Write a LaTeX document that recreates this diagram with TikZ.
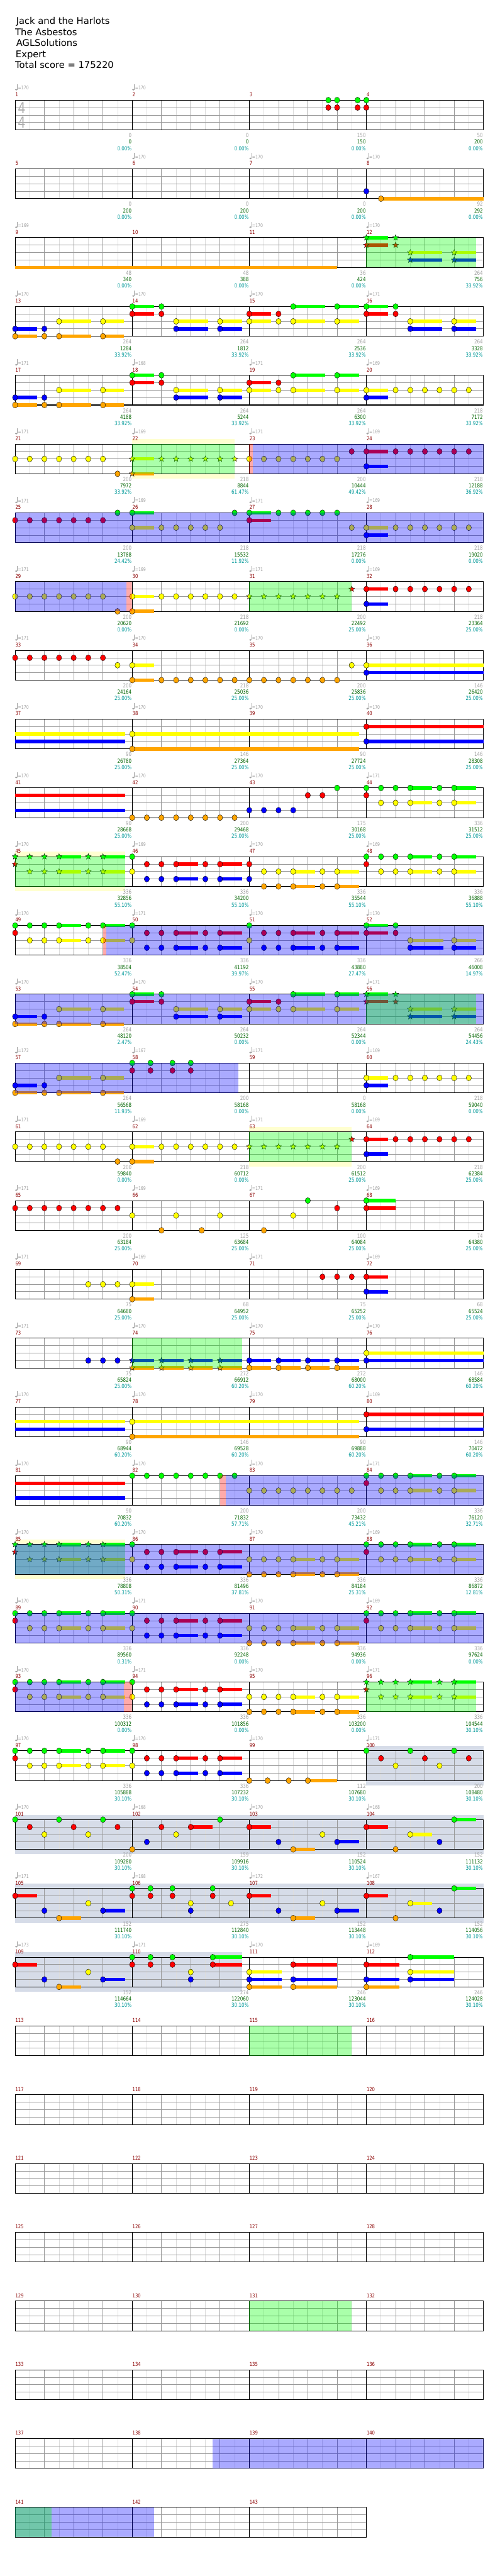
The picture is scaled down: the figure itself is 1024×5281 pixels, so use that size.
\documentclass[tikz,border=0pt]{standalone}
\usepackage{fontspec}
\setmainfont{DejaVu Sans}
\newfontfamily\lf[FakeStretch=0.8]{DejaVu Sans}
\usetikzlibrary{shapes.geometric}
\pgfdeclarelayer{bg}
\pgfdeclarelayer{grid}
\pgfdeclarelayer{over}
\pgfsetlayers{bg,grid,main,over}
\definecolor{cg}{RGB}{0,255,0}
\definecolor{cr}{RGB}{255,0,0}
\definecolor{cy}{RGB}{255,255,0}
\definecolor{cb}{RGB}{0,0,255}
\definecolor{co}{RGB}{255,165,0}
\definecolor{lgray}{RGB}{221,221,221}
\definecolor{mgray}{RGB}{153,153,153}
\definecolor{tgray}{RGB}{160,160,160}
\definecolor{sgray}{RGB}{175,175,175}
\definecolor{mred}{RGB}{139,0,0}
\definecolor{sgreen}{RGB}{0,100,0}
\definecolor{steal}{RGB}{0,153,153}
\definecolor{ybg}{RGB}{255,255,208}
\definecolor{sbg}{RGB}{214,220,232}
\def\Lg{0}\def\Lr{1}\def\Ly{2}\def\Lb{3}\def\Lo{4}
\tikzset{
 starn/.style={star,star points=5,star point ratio=2.3,minimum size=12.5pt,inner sep=0pt,draw=black,line width=0.5pt},
 mnum/.style={anchor=west,inner sep=0pt,text=mred,font=\lf\fontsize{11}{12}\selectfont},
 tnum/.style={anchor=west,inner sep=0pt,text=tgray,font=\lf\fontsize{10}{11}\selectfont},
 lab/.style={anchor=east,inner sep=0pt,font=\lf\fontsize{11.5}{12}\selectfont},
 ttl/.style={anchor=base west,inner sep=0pt,font=\fontsize{19}{22}\selectfont},
 tsig/.style={inner sep=0pt,text=sgray,font=\lf\fontsize{31}{31}\selectfont}
}
\newcommand\setrow[1]{\pgfmathsetmacro\Ty{205.3+141*(#1-1)}}
\newcommand\NN[2]{\pgfmathsetmacro\ly{\Ty+15.25*\csname L#1\endcsname}%
  \foreach \uu in {#2}{\fill[c#1,draw=black,line width=0.5pt] (31+15*\uu,\ly) ellipse [x radius=5.4,y radius=6];}}
\newcommand\BS[3]{\pgfmathsetmacro\ly{\Ty+15.25*\csname L#1\endcsname}%
  \fill[c#1] (31+15*#2,\ly-3.5) rectangle (31+15*#3,\ly+3.5);}
\newcommand\NS[2]{\foreach \aa/\bb in {#2}{\BS{#1}{\aa}{\bb}\NN{#1}{\aa}}}
\newcommand\XX[2]{\pgfmathsetmacro\ly{\Ty+15.25*\csname L#1\endcsname}%
  \foreach \uu in {#2}{\node[starn,fill=c#1] at (31+15*\uu,\ly) {};}}
\newcommand\XS[2]{\foreach \aa/\bb in {#2}{\BS{#1}{\aa}{\bb}\XX{#1}{\aa}}}
\newcommand\ovB[2]{\begin{pgfonlayer}{over}\fill[cb,opacity=0.333] (31+15*#1,\Ty) rectangle (31+15*#2,\Ty+61);\end{pgfonlayer}}
\newcommand\ovG[2]{\begin{pgfonlayer}{over}\fill[cg,opacity=0.333] (31+15*#1,\Ty) rectangle (31+15*#2,\Ty+61);\end{pgfonlayer}}
\newcommand\ovP[2]{\begin{pgfonlayer}{over}\fill[cr,opacity=0.333] (31+15*#1,\Ty) rectangle (31+15*#2,\Ty+61);\end{pgfonlayer}}
\newcommand\bgY[2]{\begin{pgfonlayer}{bg}\fill[ybg] (31+15*#1,\Ty-10) rectangle (31+15*#2,\Ty);\fill[ybg] (31+15*#1,\Ty+61) rectangle (31+15*#2,\Ty+71);\end{pgfonlayer}}
\newcommand\bgS[2]{\begin{pgfonlayer}{bg}\fill[sbg] (31+15*#1,\Ty-10) rectangle (31+15*#2,\Ty+71);\end{pgfonlayer}}
\newcommand\Staff[2]{\setrow{#1}%
 \pgfmathtruncatemacro\nq{4*#2}%
 \begin{pgfonlayer}{grid}
 \foreach \i in {1,...,\nq}{\draw[lgray,line width=0.8pt] (1+60*\i,\Ty) -- (1+60*\i,\Ty+61);}
 \foreach \i in {1,...,\nq}{\draw[mgray,line width=0.8pt] (31+60*\i,\Ty) -- (31+60*\i,\Ty+61);}
 \foreach \k in {1,2,3}{\draw[mgray,line width=1pt] (31,\Ty+15.25*\k) -- (31+240*#2,\Ty+15.25*\k);}
 \foreach \m in {1,...,#2}{\draw[black,line width=0.8pt] (31+240*\m-240,\Ty) -- (31+240*\m-240,\Ty+61);}
 \draw[black,line width=1.3pt] (31,\Ty) rectangle (31+240*#2,\Ty+61);
 \end{pgfonlayer}
 \foreach \m in {1,...,#2}{\pgfmathtruncatemacro\mn{4*#1-4+\m}\node[mnum] at (31.5+240*\m-240,\Ty-11.3) {\mn};}}
\newcommand\Tempo[1]{\foreach \tp [count=\cc from 0] in {#1}{\ifnum\tp>0\relax
  \fill[tgray] (33.3+240*\cc,\Ty-21.5) ellipse [x radius=2.4,y radius=1.8];
  \draw[tgray,line width=0.6pt] (35.5+240*\cc,\Ty-21.5) -- (35.5+240*\cc,\Ty-32.5);
  \node[tnum] at (36.8+240*\cc,\Ty-24.8) {=\tp};\fi}}
\newcommand\Labs[1]{\foreach \la/\lb/\lc [count=\cc from 1] in {#1}{%
  \node[lab,text=tgray] at (990+240*\cc-960,\Ty+72.4) {\la};
  \node[lab,text=sgreen] at (990+240*\cc-960,\Ty+85.7) {\lb};
  \node[lab,text=steal] at (990+240*\cc-960,\Ty+98.7) {\lc\%};}}
\begin{document}
\begin{tikzpicture}[x=1pt,y=-1pt]
\useasboundingbox (0,0) rectangle (1024,5281);
\begin{pgfonlayer}{bg}\fill[white] (0,0) rectangle (1024,5281);\end{pgfonlayer}
\node[ttl] (t1) at (33,50) {Jack and the Harlots};
\node[ttl] (t2) at (31,72.6) {The Asbestos};
\node[ttl] (t3) at (33,95.2) {AGLSolutions};
\node[ttl] (t4) at (32,117.8) {Expert};
\node[ttl] (t5) at (31,140.4) {Total score = 175220};
% ---------- row 1
\Staff{1}{4}\Tempo{170,170,0,0}
\node[tsig] (ts1) at (44.5,221) {4};
\node[tsig] (ts2) at (44.5,251.5) {4};
\Labs{0/0/0.00,0/0/0.00,150/150/0.00,50/200/0.00}
\NN{g}{42.8,44,46.8,48}\NN{r}{42.8,44,46.8,48}
% ---------- row 2
\Staff{2}{4}\Tempo{0,170,170,170}
\Labs{0/200/0.00,0/200/0.00,0/200/0.00,92/292/0.00}
\NN{b}{48}\NS{o}{50/64}
% ---------- row 3
\Staff{3}{4}\Tempo{169,0,170,170}
\Labs{48/340/0.00,48/388/0.00,36/424/0.00,264/756/33.92}
\BS{o}{0}{44}\ovG{48}{63}
\XS{g}{48/51}\XX{g}{52}\XS{r}{48/51}\XX{r}{52}\XS{y}{54/58.4,60/63}\XS{b}{54/58.4,60/63}
% ---------- row 4
\Staff{4}{4}\Tempo{170,170,170,171}
\Labs{264/1284/33.92,264/1812/33.92,264/2536/33.92,264/3328/33.92}
\NS{o}{0/3,6/10.4,12/14.9}\NN{o}{4}
\NS{b}{0/3,22/26.4,28/31,54/58.4,60/63}\NN{b}{4}
\NS{y}{6/10.4,12/14.9,22/26.4,28/31,32/35,38/42.4,44/47,54/58.4,60/63}\NN{y}{36}
\NS{g}{16/19,38/42.4,44/47,48/51}\NN{g}{20,52}
\NS{r}{16/19,32/35,48/51}\NN{r}{20,36,52}
% ---------- row 5
\Staff{5}{4}\Tempo{171,168,171,169}
\Labs{264/4188/33.92,264/5244/33.92,264/6300/33.92,218/7172/33.92}
\NS{o}{0/3,6/10.4,12/14.9}\NN{o}{4}
\NS{b}{0/3,22/26.4,28/31,48/51}\NN{b}{4}
\NS{y}{6/10.4,12/14.9,22/26.4,28/31,32/35,38/42.4,44/47,48/51}\NN{y}{36,52,54,56,58,60,62}
\NS{g}{16/19,38/42.4,44/47}\NN{g}{20}
\NS{r}{16/19,32/35}\NN{r}{20,36}
% ---------- row 6
\Staff{6}{4}\Tempo{171,169,171,169}
\Labs{200/7972/33.92,218/8844/61.47,200/10444/49.42,218/12188/36.92}
\bgY{16}{30}\ovG{16}{30}\ovP{32}{32.5}\ovB{32.5}{64}
\NN{y}{0,2,4,6,8,10,12,32,34,36,38,40,42,44}\NN{o}{14}
\XS{y}{16/19}\XS{o}{16/19}\XX{y}{20,22,24,26,28,30}
\NN{r}{46,52,54,56,58,60,62}\NS{r}{48/51}\NS{b}{48/51}
% ---------- row 7
\Staff{7}{4}\Tempo{171,169,171,169}
\Labs{200/13788/24.42,218/15532/11.92,218/17276/0.00,218/19020/0.00}
\ovB{0}{64}
\NN{r}{0,2,4,6,8,10,12}\NN{g}{14}\NS{g}{16/19}\NS{y}{16/19}\NN{y}{20,22,24,26,28}\NN{g}{30}
\NS{g}{32/35}\NS{r}{32/35}\NN{g}{36,38,40,42,44}\NN{y}{46,52,54,56,58,60,62}\NS{y}{48/51}\NS{b}{48/51}
% ---------- row 8
\Staff{8}{4}\Tempo{171,169,171,169}
\Labs{200/20620/0.00,218/21692/0.00,200/22492/25.00,218/23364/25.00}
\ovB{0}{15.2}\ovP{15.2}{16}\ovG{32}{46}
\NN{y}{0,2,4,6,8,10,12,20,22,24,26,28,30}\NN{o}{14}\NS{y}{16/19}\NS{o}{16/19}
\XX{y}{32,34,36,38,40,42,44}\XX{r}{46}\NS{r}{48/51}\NS{b}{48/51}\NN{r}{52,54,56,58,60,62}
% ---------- row 9
\Staff{9}{4}\Tempo{171,170,170,170}
\Labs{200/24164/25.00,218/25036/25.00,200/25836/25.00,146/26420/25.00}
\NN{r}{0,2,4,6,8,10,12}\NN{y}{14,46}\NS{y}{16/19,48/64}\NS{o}{16/19}
\NN{o}{20,22,24,26,28,30,32,34,36,38,40,42,44}\NS{b}{48/64}
% ---------- row 10
\Staff{10}{4}\Tempo{170,170,170,170}
\Labs{90/26780/25.00,146/27364/25.00,90/27724/25.00,146/28308/25.00}
\BS{y}{0}{15}\BS{b}{0}{15}\NS{y}{16/47}\NS{o}{16/47}\NS{r}{48/64}\NS{b}{48/64}
% ---------- row 11
\Staff{11}{4}\Tempo{170,170,170,171}
\Labs{90/28668/25.00,200/29468/25.00,175/30168/25.00,336/31512/25.00}
\BS{r}{0}{15}\BS{b}{0}{15}\NN{o}{16,18,20,22,24,26,28,30}\NN{b}{32,34,36,38}
\NN{r}{40,42,48}\NN{g}{44,48,50,52,58}\NS{g}{54/57,60/63}\NN{y}{50,52,58}\NS{y}{54/57,60/63}
% ---------- row 12
\Staff{12}{4}\Tempo{170,169,170,169}
\Labs{336/32856/55.10,336/34200/55.10,336/35544/55.10,336/36888/55.10}
\bgY{0}{15}\ovG{0}{15}
\XX{g}{0,2,4,10}\XS{g}{6/9,12/15}\XX{r}{0}\XX{y}{2,4,10}\XS{y}{6/9,12/15}
\NN{g}{16,48,50,52,58}\NS{g}{54/57,60/63}\NN{y}{16,50,52,58}\NS{y}{54/57,60/63}
\NN{r}{18,20,26,32,48}\NS{r}{22/25,28/31}\NN{b}{18,20,26,32}\NS{b}{22/25,28/31}
\NN{y}{34,36,42}\NS{y}{38/41,44/47}\NN{o}{34,36,42}\NS{o}{38/41,44/47}
% ---------- row 13
\Staff{13}{4}\Tempo{170,171,170,170}
\Labs{336/38504/52.47,336/41192/39.97,336/43880/27.47,266/46008/14.97}
\ovP{12}{12.5}\ovB{12.5}{64}
\NN{g}{0,2,4,10,16,32,52}\NS{g}{6/9,12/15,48/51}
\NN{r}{0,18,20,26,34,36,42,52}\NS{r}{22/25,28/31,38/41,44/47,48/51}
\NN{y}{2,4,10,16,32}\NS{y}{6/9,12/15,54/58.5,60/63}
\NN{b}{18,20,26,34,36,42}\NS{b}{22/25,28/31,38/41,44/47,54/58.5,60/63}
% ---------- row 14
\Staff{14}{4}\Tempo{170,170,170,171}
\Labs{264/48120/2.47,264/50232/0.00,264/52344/0.00,264/54456/24.43}
\ovB{0}{64}\ovG{48}{63}
\NS{o}{0/3,6/10.4,12/14.9}\NN{o}{4}
\NS{b}{0/3,22/26.4,28/31}\NN{b}{4}\XS{b}{54/58.4,60/63}
\NS{y}{6/10.4,12/14.9,22/26.4,28/31,32/35,38/42.4,44/47}\NN{y}{36}\XS{y}{54/58.4,60/63}
\NS{g}{16/19,38/42.4,44/47}\NN{g}{20}\XS{g}{48/51}\XX{g}{52}
\NS{r}{16/19,32/35}\NN{r}{20,36}\XS{r}{48/51}\XX{r}{52}
% ---------- row 15
\Staff{15}{4}\Tempo{172,167,171,169}
\Labs{264/56568/11.93,200/58168/0.00,0/58168/0.00,218/59040/0.00}
\ovB{0}{30.5}
\NS{o}{0/3,6/10.4,12/14.9}\NN{o}{4}\NS{b}{0/3,48/51}\NN{b}{4}
\NS{y}{6/10.4,12/14.9,48/51}\NN{y}{52,54,56,58,60,62}
\NN{g}{16,18.5,21.5,24}\NN{r}{16,18.5,21.5,24}
% ---------- row 16
\Staff{16}{4}\Tempo{171,169,171,169}
\Labs{200/59840/0.00,218/60712/0.00,200/61512/25.00,218/62384/25.00}
\bgY{32}{46}\ovG{32}{46}
\NN{y}{0,2,4,6,8,10,12,20,22,24,26,28,30}\NN{o}{14}\NS{y}{16/19}\NS{o}{16/19}
\XX{y}{32,34,36,38,40,42,44}\XX{r}{46}\NS{r}{48/51}\NS{b}{48/51}\NN{r}{52,54,56,58,60,62}
% ---------- row 17
\Staff{17}{4}\Tempo{171,169,171,169}
\Labs{200/63184/25.00,125/63684/25.00,100/64084/25.00,74/64380/25.00}
\NN{r}{0,2,4,6,8,10,12,14,44}\NN{y}{16,22,28,38}\NN{o}{20,25.5,34}\NN{g}{40}\NS{g}{48/52}\NS{r}{48/52}
% ---------- row 18
\Staff{18}{4}\Tempo{171,169,171,169}
\Labs{75/64680/25.00,68/64952/25.00,75/65252/25.00,68/65524/25.00}
\NN{y}{10,12,14}\NS{y}{16/19}\NS{o}{16/19}\NN{r}{42,44,46}\NS{r}{48/51}\NS{b}{48/51}
% ---------- row 19
\Staff{19}{4}\Tempo{171,170,170,170}
\Labs{75/65824/25.00,272/66912/60.20,272/68000/60.20,146/68584/60.20}
\ovG{16}{31}
\NN{b}{10,12,14}\XS{b}{16/19,20/23,24/27,28/31}\XS{o}{16/19,20/23,24/27,28/31}
\NS{b}{32/35,36/39,40/43,44/47}\NS{o}{32/35,36/39,40/43,44/47}\NS{y}{48/64}\NS{b}{48/64}
% ---------- row 20
\Staff{20}{4}\Tempo{170,170,170,169}
\Labs{90/68944/60.20,146/69528/60.20,90/69888/60.20,146/70472/60.20}
\BS{y}{0}{15}\BS{b}{0}{15}\NS{y}{16/47}\NS{o}{16/47}\NS{r}{48/64}\NS{b}{48/64}
% ---------- row 21
\Staff{21}{4}\Tempo{170,170,170,171}
\Labs{90/70832/60.20,200/71832/57.71,200/73432/45.21,336/76120/32.71}
\ovP{28}{28.8}\ovB{28.8}{64}
\BS{r}{0}{15}\BS{b}{0}{15}\NN{g}{16,18,20,22,24,26,28,30,48,50,52,58}\NS{g}{54/57,60/63}
\NN{y}{32,34,36,38,40,42,44,46,50,52,58}\NS{y}{54/57,60/63}\NN{r}{48}
% ---------- row 22
\Staff{22}{4}\Tempo{170,170,170,169}
\Labs{336/78808/50.31,336/81496/37.81,336/84184/25.31,336/86872/12.81}
\bgY{0}{15}\ovG{0}{15}\ovB{0}{64}
\XX{g}{0,2,4,10}\XS{g}{6/9,12/15}\XX{r}{0}\XX{y}{2,4,10}\XS{y}{6/9,12/15}
\NN{g}{16,48,50,52,58}\NS{g}{54/57,60/63}\NN{y}{16,50,52,58}\NS{y}{54/57,60/63}
\NN{r}{18,20,26,48}\NS{r}{22/25,28/31}\NN{b}{18,20,26}\NS{b}{22/25,28/31}
\NN{y}{32,34,36,42}\NS{y}{38/41,44/47}\NN{o}{32,34,36,42}\NS{o}{38/41,44/47}
% ---------- row 23
\Staff{23}{4}\Tempo{170,171,170,169}
\Labs{336/89560/0.31,336/92248/0.00,336/94936/0.00,336/97624/0.00}
\ovB{0}{64}
\NN{g}{0,2,4,10,16,48,50,52,58}\NS{g}{6/9,12/15,54/57,60/63}\NN{r}{0,18,20,26,48}\NS{r}{22/25,28/31}
\NN{y}{2,4,10,16,32,34,36,42,50,52,58}\NS{y}{6/9,12/15,38/41,44/47,54/57,60/63}
\NN{b}{18,20,26}\NS{b}{22/25,28/31}\NN{o}{32,34,36,42}\NS{o}{38/41,44/47}
% ---------- row 24
\Staff{24}{4}\Tempo{170,171,170,171}
\Labs{336/100312/0.00,336/101856/0.00,336/103200/0.00,336/104544/30.10}
\ovB{0}{14.85}\ovP{14.85}{16}\ovG{48}{63}
\NN{g}{0,2,4,10,16}\NS{g}{6/9,12/15}\NN{r}{0,18,20,26}\NS{r}{22/25,28/31}
\NN{y}{2,4,10,16,32,34,36,42}\NS{y}{6/9,12/15,38/41,44/47}
\NN{b}{18,20,26}\NS{b}{22/25,28/31}\NN{o}{32,34,36,42}\NS{o}{38/41,44/47}
\XX{g}{48,50,52,58}\XS{g}{54/57,60/63}\XX{r}{48}\XX{y}{50,52,58}\XS{y}{54/57,60/63}
% ---------- row 25
\Staff{25}{4}\Tempo{170,170,170,171}
\Labs{336/105888/30.10,336/107232/30.10,112/107680/30.10,200/108480/30.10}
\bgS{48}{64}
\NN{g}{0,2,4,10,16}\NS{g}{6/9,12/15}\NN{r}{0,18,20,26}\NS{r}{22/25,28/31}
\NN{y}{2,4,10,16}\NS{y}{6/9,12/15}\NN{b}{18,20,26}\NS{b}{22/25,28/31}
\NN{o}{32,34.5,37.4}\NS{o}{40/44}
\NN{g}{48,54,60}\NN{r}{50,56,62}\NN{y}{52,58}
% ---------- row 26
\Staff{26}{4}\Tempo{170,168,170,168}
\Labs{200/109280/30.10,159/109916/30.10,152/110524/30.10,152/111132/30.10}
\bgS{0}{64}
\NN{g}{0,6,12,28}\NS{g}{60/63}\NN{r}{2,8,14,20}\NS{r}{24/27,32/35,48/51}
\NN{y}{4,10,22,42}\NS{y}{54/57}\NN{o}{16,52}\NS{o}{38/41}\NN{b}{18,36,58}\NS{b}{44/47}
% ---------- row 27
\Staff{27}{4}\Tempo{171,168,172,167}
\Labs{152/111740/30.10,275/112840/30.10,152/113448/30.10,152/114056/30.10}
\bgS{0}{64}
\NS{r}{0/3,32/35,48/51}\NN{b}{4,24,36,58}\NS{o}{6/9,38/41}\NN{y}{10,24,29.5,42}\NS{b}{12/15,44/47}
\NN{g}{16,18.5,21.5,27}\NN{r}{16,18.5,21.5,27}\NN{o}{52}\NS{y}{54/57}\NS{g}{60/63}
% ---------- row 28
\Staff{28}{4}\Tempo{173,171,170,169}
\Labs{152/114664/30.10,274/122060/30.10,246/123044/30.10,246/124028/30.10}
\bgS{0}{31}
\NS{r}{0/3}\NN{b}{4,24}\NS{o}{6/9}\NN{y}{10,24}\NS{b}{12/15}
\NN{g}{16,18.5,21.5}\NN{r}{16,18.5,21.5}\NS{g}{27/31}\NS{r}{27/31}
\NS{y}{32/36.4}\NS{b}{32/36.4,38/44,48/52.5,54/60}\NS{o}{32/36.4,38/44,48/52.5}
\NS{r}{38/44,48/52.5}\NS{g}{54/60}\NS{y}{54/60}
% ---------- rows 29-36
\Staff{29}{4}\ovG{32}{46}
\Staff{30}{4}
\Staff{31}{4}
\Staff{32}{4}
\Staff{33}{4}\ovG{32}{46}
\Staff{34}{4}
\Staff{35}{4}\ovB{27}{64}
\Staff{36}{3}\ovB{0}{19}\ovG{0}{5}
\end{tikzpicture}
\end{document}
